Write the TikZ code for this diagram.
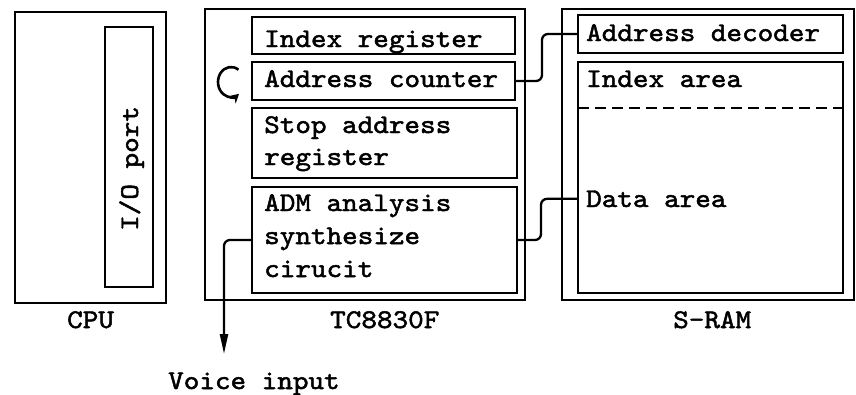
\documentclass[tikz,border=0pt]{standalone}
\usepackage{fontspec}
\newfontfamily\tw{lmmono10-regular.otf}[FakeStretch=1.1, FakeBold=1.8]
\usetikzlibrary{arrows.meta}
\begin{document}
\begin{tikzpicture}[x=1pt,y=-1pt,
  box/.style={draw, line width=2.8pt, inner sep=0pt, outer sep=0pt},
  txt/.style={inner sep=0pt, anchor=base west, font=\tw\fontsize{27}{30}\selectfont},
  wire/.style={line width=2.3pt, rounded corners=6pt},
  dashline/.style={line width=2.2pt, dash pattern=on 11pt off 6pt}]
\useasboundingbox (0,0) rectangle (856,394);
% CPU
\node[box, minimum width=151pt, minimum height=291pt] (cpu) at (90.5,157.5) {};
\node[box, minimum width=48pt, minimum height=260pt] (io) at (129,157) {};
\node[txt, rotate=90] (iotxt) at (138,231) {I/O port};
\node[txt] (cpulbl) at (67,328) {CPU};
% TC8830F
\node[box, minimum width=320pt, minimum height=291pt] (tc) at (365,154.5) {};
\node[box, minimum width=263pt, minimum height=37pt] (idx) at (383.5,35.5) {};
\node[box, minimum width=263pt, minimum height=38pt] (acnt) at (383.5,81) {};
\node[box, minimum width=265pt, minimum height=70pt] (stop) at (384.5,143) {};
\node[box, minimum width=265pt, minimum height=106pt] (adm) at (384.5,240) {};
\node[txt] (idxtxt) at (264,47) {Index register};
\node[txt] (acnttxt) at (264,87) {Address counter};
\node[txt] (stoptxt1) at (264,133) {Stop address};
\node[txt] (stoptxt2) at (264,165) {register};
\node[txt] (admtxt1) at (264,211) {ADM analysis};
\node[txt] (admtxt2) at (264,244) {synthesize};
\node[txt] (admtxt3) at (264,277) {cirucit};
\node[txt] (tclbl) at (330,328) {TC8830F};
\coordinate (loopc) at (231,82);
\draw[line width=2.6pt, -{Stealth[length=9pt,width=10pt]}] ([shift={(-55:13 and 15)}]loopc) arc[x radius=13, y radius=15, start angle=-55, end angle=-308];
% S-RAM
\node[box, minimum width=292pt, minimum height=291pt] (sram) at (708,154.5) {};
\node[box, minimum width=265pt, minimum height=38pt] (adec) at (710.5,34) {};
\node[box, minimum width=265pt, minimum height=231pt] (area) at (710.5,177.5) {};
\draw[dashline] (area.west |- 0,108) -- (area.east |- 0,108);
\node[txt] (adectxt) at (586,41) {Address decoder};
\node[txt] (idxarea) at (586,87) {Index area};
\node[txt] (dataarea) at (586,207) {Data area};
\node[txt] (sramlbl) at (673,328) {S-RAM};
% connectors
\draw[wire] (acnt.east) -- ++(27,0) |- (adec.west);
\draw[wire] (adm.east) -- ++(24,0) |- (area.west |- dataarea.center);
\coordinate (vin) at (224,354);
\draw[wire, -{Triangle[length=20pt,width=8pt]}] (adm.west) -| (vin);
\node[txt] (voicelbl) at (168,389) {Voice input};
\end{tikzpicture}
\end{document}
